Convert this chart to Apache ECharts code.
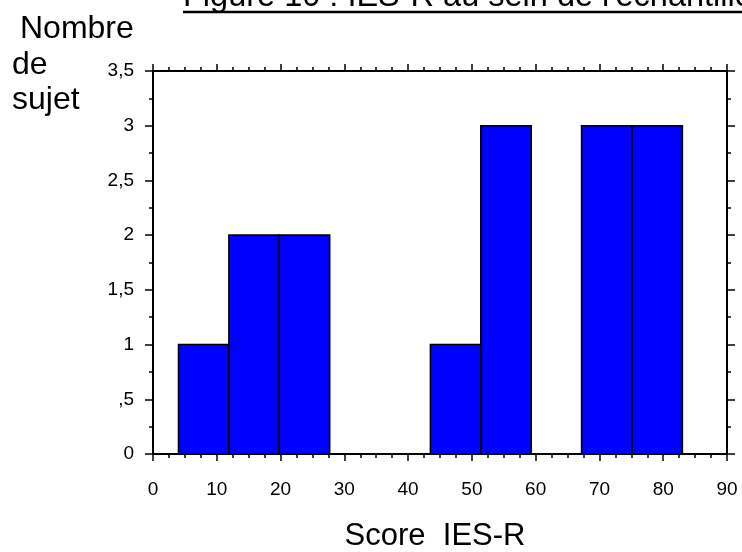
<!DOCTYPE html>
<html>
<head>
<meta charset="utf-8">
<script src="https://cdn.jsdelivr.net/npm/echarts@6/dist/echarts.min.js"></script>
<style>
html,body{margin:0;padding:0;background:#fff;}
#chart{width:742px;height:552px;}
</style>
</head>
<body>
<div id="chart"></div>
<script>
// Data
const titleText = "Figure 10 : IES-R au sein de l'échantillon";
const xAxisTitle = "Score  IES-R";
const yAxisTitleLines = ["Nombre", "de", "sujet"];
const binStarts = [4, 11.9, 19.8, 27.7, 35.6, 43.5, 51.4, 59.3, 67.2, 75.1];
const binEnds   = [11.9, 19.8, 27.7, 35.6, 43.5, 51.4, 59.3, 67.2, 75.1, 83.0];
const counts    = [1, 2, 2, 0, 0, 1, 3, 0, 3, 3];
const xMin = 0, xMax = 90, xStep = 10;
const yMin = 0, yMax = 3.5, yStep = 0.5;

const FONT = 'Liberation Sans, Arial, sans-serif';
const chart = echarts.init(document.getElementById('chart'), null, {renderer: 'canvas'});

const histData = binStarts.map((s, i) => [s, binEnds[i], counts[i]]);

function yFmt(v) {
  if (v === 0) return '0';
  let s = String(v).replace('.', ',');
  if (s.startsWith('0,')) s = s.slice(1);
  return s;
}

const axisLineStyle = {color: '#000', width: 2};
const tickStyle = {color: '#000', width: 1.5};

function xAx(pos, showLabel) {
  return {
    type: 'value', min: xMin, max: xMax, interval: xStep, position: pos,
    axisLine: {show: true, onZero: false, lineStyle: axisLineStyle},
    axisTick: {show: true, inside: false, length: 7, lineStyle: tickStyle},
    minorTick: {show: true, splitNumber: 4, length: 4, lineStyle: tickStyle},
    axisLabel: {show: showLabel, color: '#000', fontFamily: FONT, fontSize: 19, margin: 26},
    splitLine: {show: false}, minorSplitLine: {show: false}
  };
}
function yAx(pos, showLabel) {
  return {
    type: 'value', min: yMin, max: yMax, interval: yStep, position: pos,
    axisLine: {show: true, onZero: false, lineStyle: axisLineStyle},
    axisTick: {show: true, inside: false, length: 8, lineStyle: tickStyle},
    minorTick: {show: true, splitNumber: 2, length: 4, lineStyle: tickStyle},
    axisLabel: {show: showLabel, color: '#000', fontFamily: FONT, fontSize: 19, margin: 19, formatter: yFmt},
    splitLine: {show: false}, minorSplitLine: {show: false}
  };
}

const option = {
  backgroundColor: '#fff',
  animation: false,
  grid: {left: 153, right: 15, top: 71, bottom: 98, containLabel: false},
  xAxis: [xAx('bottom', true), xAx('top', false)],
  yAxis: [yAx('left', true), yAx('right', false)],
  series: [
    {
      type: 'custom',
      xAxisIndex: 0, yAxisIndex: 0,
      data: histData,
      encode: {x: [0, 1], y: 2},
      renderItem: function (params, api) {
        const x0 = api.value(0), x1 = api.value(1), c = api.value(2);
        if (!c) return null;
        const p0 = api.coord([x0, c]);
        const p1 = api.coord([x1, 0]);
        return {
          type: 'rect',
          shape: {x: p0[0], y: p0[1], width: p1[0] - p0[0], height: p1[1] - p0[1]},
          style: {fill: '#0000FF', stroke: '#000', lineWidth: 1.6}
        };
      }
    },
    {type: 'line', xAxisIndex: 1, yAxisIndex: 1, data: [], silent: true}
  ],
  graphic: [
    {type: 'text', x: 183, y: -3, style: {text: titleText, font: '32.5px ' + FONT, fill: '#000', verticalAlign: 'middle'}},
    {type: 'line', shape: {x1: 183, y1: 12, x2: 742, y2: 12}, style: {stroke: '#000', lineWidth: 2.5}},
    {type: 'text', x: 20, y: 29, style: {text: yAxisTitleLines[0], font: '32px ' + FONT, fill: '#000', verticalAlign: 'middle'}},
    {type: 'text', x: 12, y: 65, style: {text: yAxisTitleLines[1], font: '32px ' + FONT, fill: '#000', verticalAlign: 'middle'}},
    {type: 'text', x: 12, y: 100, style: {text: yAxisTitleLines[2], font: '32px ' + FONT, fill: '#000', verticalAlign: 'middle'}},
    {type: 'text', x: 435, y: 536, style: {text: xAxisTitle, font: '31px ' + FONT, fill: '#000', align: 'center', verticalAlign: 'middle'}}
  ]
};
chart.setOption(option);
</script>
</body>
</html>
